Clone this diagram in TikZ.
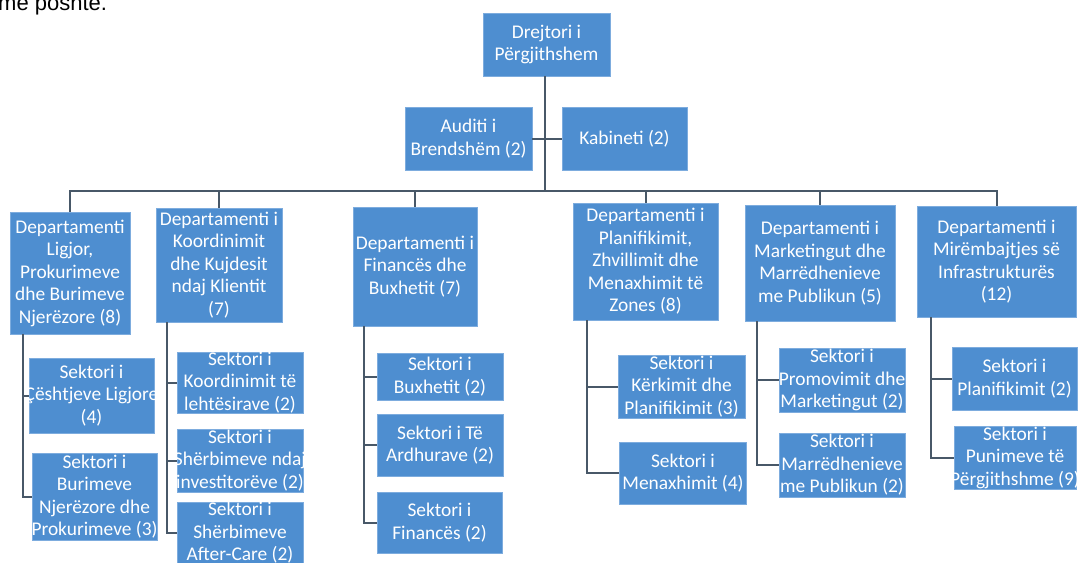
\documentclass[tikz,border=0pt]{standalone}
\usepackage{fontspec}
\setmainfont{Carlito}
\newfontfamily\capfont{Liberation Sans}
\definecolor{boxblue}{RGB}{78,142,208}
\definecolor{boxedge}{RGB}{125,172,222}
\definecolor{linegray}{RGB}{72,88,104}
\tikzset{
  box/.style={fill=boxblue, draw=boxedge, line width=0.6pt, inner sep=0pt},
  lbl/.style={text=white, align=center, inner sep=0pt, font=\fontsize{19.4}{22.5}\selectfont},
  conn/.style={draw=linegray, line width=2pt},
}
\newcommand{\orgbox}[6]{% name, cx, cy, w, h, text
  \node[box, minimum width=#4pt, minimum height=#5pt,
        label={[lbl, name=#1-t]center:{#6}}] (#1) at (#2,#3) {};}
\begin{document}
\begin{tikzpicture}[x=1pt, y=-1pt]
\useasboundingbox[fill=white] (0,0) rectangle (1078,562);
% caption fragment
\node[anchor=base west, inner sep=0pt, font=\capfont\fontsize{22}{26}\selectfont] (cap) at (-2,10) {me poshtë.};
% boxes
\orgbox{top}{546.5}{44.5}{127}{63}{Drejtori i\\Përgjithshem}
\orgbox{aud}{468.5}{138.5}{127}{63}{Auditi i\\Brendshëm (2)}
\orgbox{kab}{624.5}{138.5}{125}{63}{Kabineti (2)}
\orgbox{d1}{70}{273}{120}{122}{Departamenti\\Ligjor,\\Prokurimeve\\dhe Burimeve\\Njerëzore (8)}
\orgbox{d2}{219}{265}{126}{114}{Departamenti i\\Koordinimit\\dhe Kujdesit\\ndaj Klientit\\(7)}
\orgbox{d3}{415}{266.5}{124}{119}{Departamenti i\\Financës dhe\\Buxhetit (7)}
\orgbox{d4}{645.5}{261.5}{145}{117}{Departamenti i\\Planifikimit,\\Zhvillimit dhe\\Menaxhimit të\\Zones (8)}
\orgbox{d5}{820}{263}{150}{116}{Departamenti i\\Marketingut dhe\\Marrëdhenieve\\me Publikun (5)}
\orgbox{d6}{996.5}{261.5}{159}{111}{Departamenti i\\Mirëmbajtjes së\\Infrastrukturës\\(12)}
\orgbox{s1a}{91.5}{395.5}{125}{75}{Sektori i\\Çështjeve Ligjore\\(4)}
\orgbox{s1b}{94.5}{496.5}{125}{87}{Sektori i\\Burimeve\\Njerëzore dhe\\Prokurimeve (3)}
\orgbox{s2a}{240}{382.5}{126}{61}{Sektori i\\Koordinimit të\\lehtësirave (2)}
\orgbox{s2b}{240}{460.5}{126}{63}{Sektori i\\Shërbimeve ndaj\\investitorëve (2)}
\orgbox{s2c}{240}{533}{126}{62}{Sektori i\\Shërbimeve\\After-Care (2)}
\orgbox{s3a}{440}{376.5}{126}{47}{Sektori i\\Buxhetit (2)}
\orgbox{s3b}{440}{445}{126}{62}{Sektori i Të\\Ardhurave (2)}
\orgbox{s3c}{439.5}{522.5}{125}{61}{Sektori i\\Financës (2)}
\orgbox{s4a}{681.5}{386.5}{127}{63}{Sektori i\\Kërkimit dhe\\Planifikimit (3)}
\orgbox{s4b}{683}{473}{127}{62}{Sektori i\\Menaxhimit (4)}
\orgbox{s5a}{842}{380}{126}{64}{Sektori i\\Promovimit dhe\\Marketingut (2)}
\orgbox{s5b}{842}{465}{126}{64}{Sektori i\\Marrëdhenieve\\me Publikun (2)}
\orgbox{s6a}{1014.5}{378.5}{125}{63}{Sektori i\\Planifikimit (2)}
\orgbox{s6b}{1015}{457.5}{122}{63}{Sektori i\\Punimeve të\\Përgjithshme (9)}
% connectors
\coordinate (bus) at (545,191);
\coordinate (tr) at (545,76);
\coordinate (v1) at (23,334);
\coordinate (v2) at (167,322);
\coordinate (v3) at (364,326);
\coordinate (v4) at (587,320);
\coordinate (v5) at (757,321);
\coordinate (v6) at (931,317);
\draw[conn] (tr) -- (bus);
\draw[conn] (aud.east) -- (kab.west);
\foreach \d in {d1,d2,d3,d4,d5,d6}{\draw[conn] (\d.north) |- (bus);}
\draw[conn] (v1) |- (s1a.west); \draw[conn] (v1) |- (s1b.west);
\draw[conn] (v2) |- (s2a.west); \draw[conn] (v2) |- (s2b.west); \draw[conn] (v2) |- (s2c.west);
\draw[conn] (v3) |- (s3a.west); \draw[conn] (v3) |- (s3b.west); \draw[conn] (v3) |- (s3c.west);
\draw[conn] (v4) |- (s4a.west); \draw[conn] (v4) |- (s4b.west);
\draw[conn] (v5) |- (s5a.west); \draw[conn] (v5) |- (s5b.west);
\draw[conn] (v6) |- (s6a.west); \draw[conn] (v6) |- (s6b.west);
\end{tikzpicture}
\end{document}
